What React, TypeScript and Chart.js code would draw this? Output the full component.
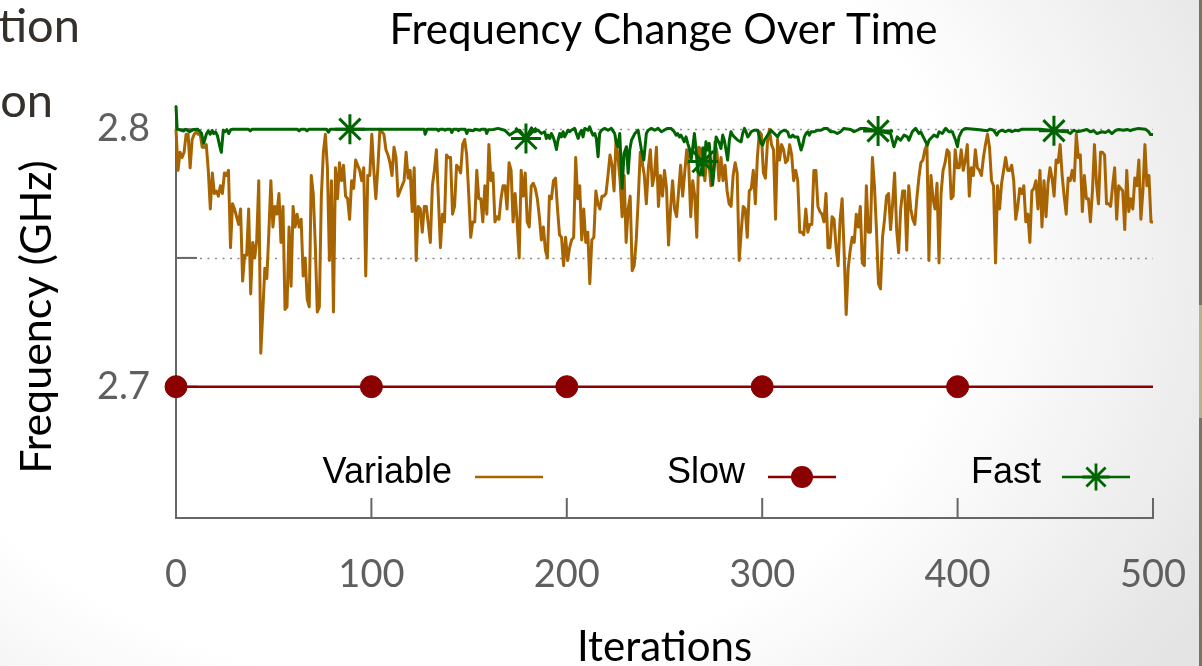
import React, { useEffect, useRef } from "react";
import { Chart, registerables } from "chart.js";

Chart.register(...registerables);

const chartTitle = "Frequency Change Over Time";
const xAxisTitle = "Iterations";
const yAxisTitle = "Frequency (GHz)";
const slideLines = ["tion", "on"];

const xTickValues = [0, 100, 200, 300, 400, 500];
const yTickValues = [2.7, 2.75, 2.8];
const yTickLabels = ["2.7", "", "2.8"];
const dottedGridValues = [2.75, 2.8];

const seriesNames = ["Variable", "Slow", "Fast"];

const variableValues = [
  2.800, 2.784, 2.791, 2.789, 2.791, 2.798, 2.798, 2.785, 2.796, 2.798,
  2.799, 2.798, 2.798, 2.793, 2.793, 2.794, 2.784, 2.769, 2.783, 2.775,
  2.776, 2.774, 2.778, 2.775, 2.783, 2.782, 2.784, 2.754, 2.771, 2.769,
  2.766, 2.763, 2.769, 2.741, 2.751, 2.751, 2.769, 2.736, 2.756, 2.750,
  2.757, 2.780, 2.713, 2.729, 2.746, 2.742, 2.760, 2.780,
  2.762, 2.770, 2.767, 2.775, 2.756, 2.770, 2.730, 2.731, 2.762, 2.739,
  2.770, 2.762, 2.767, 2.762, 2.765, 2.743, 2.750, 2.734, 2.731, 2.782,
  2.775, 2.755, 2.729, 2.731, 2.774, 2.791, 2.798, 2.785, 2.749, 2.780,
  2.729, 2.785,
  2.773, 2.787, 2.780, 2.786, 2.774, 2.773, 2.765, 2.780, 2.777, 2.788,
  2.786, 2.784, 2.780, 2.785, 2.743, 2.782, 2.782, 2.798, 2.784, 2.773,
  2.785, 2.800, 2.799, 2.798, 2.792, 2.790, 2.787, 2.782, 2.793, 2.789,
  2.774, 2.776, 2.778, 2.780, 2.791, 2.781, 2.784, 2.768, 2.785, 2.749,
  2.770, 2.769, 2.760, 2.770, 2.770, 2.763, 2.756, 2.778, 2.784, 2.792,
  2.773, 2.754, 2.767, 2.764, 2.790, 2.789, 2.789, 2.767, 2.770, 2.786,
  2.785, 2.783, 2.794, 2.796, 2.790, 2.775, 2.758, 2.764, 2.764, 2.784,
  2.773, 2.773, 2.764, 2.778, 2.767, 2.794, 2.780, 2.783, 2.764, 2.766,
  2.765, 2.773, 2.778, 2.778, 2.769, 2.787, 2.784, 2.764, 2.775, 2.764,
  2.750, 2.784, 2.774, 2.783, 2.764, 2.762, 2.778, 2.779, 2.777, 2.773,
  2.766, 2.757, 2.762, 2.753, 2.750, 2.774, 2.773, 2.780, 2.781, 2.769,
  2.759, 2.758, 2.747, 2.758, 2.749, 2.754, 2.757, 2.758, 2.789, 2.773,
  2.778, 2.757, 2.769, 2.756, 2.760, 2.740, 2.757, 2.758, 2.776, 2.771,
  2.769, 2.774, 2.774, 2.775, 2.782, 2.790, 2.786, 2.776, 2.796, 2.789,
  2.780, 2.766, 2.782, 2.756, 2.769, 2.774, 2.745, 2.747, 2.757, 2.773,
  2.791, 2.787, 2.782, 2.771, 2.785, 2.792, 2.778, 2.782, 2.793, 2.770,
  2.782,
  2.774, 2.784, 2.777, 2.755, 2.769, 2.780, 2.769, 2.766, 2.776, 2.786,
  2.774, 2.783, 2.792, 2.786, 2.766, 2.780, 2.774, 2.758, 2.793, 2.792,
  2.787, 2.780, 2.789, 2.787, 2.778, 2.781, 2.795, 2.791, 2.780, 2.789,
  2.780, 2.786, 2.776, 2.771, 2.770, 2.782, 2.787, 2.783, 2.749, 2.760,
  2.770, 2.769, 2.758, 2.776, 2.777, 2.784, 2.771, 2.789, 2.799, 2.798,
  2.783, 2.781, 2.795, 2.800, 2.794, 2.792, 2.765, 2.796, 2.788, 2.794,
  2.792, 2.787, 2.788, 2.794, 2.790, 2.780, 2.784, 2.780, 2.760, 2.760,
  2.759, 2.769, 2.760, 2.763, 2.763, 2.784, 2.784, 2.770, 2.768, 2.767,
  2.764, 2.775,
  2.754, 2.754, 2.766, 2.765, 2.754, 2.747, 2.765, 2.773, 2.752, 2.728,
  2.746, 2.753, 2.758, 2.756, 2.767, 2.762, 2.770, 2.748, 2.747, 2.778,
  2.760, 2.760, 2.789, 2.778, 2.761, 2.740, 2.738, 2.758, 2.765, 2.774,
  2.775, 2.761, 2.771, 2.783, 2.761, 2.752, 2.769, 2.776, 2.776, 2.753,
  2.778, 2.769, 2.765, 2.763, 2.773, 2.781, 2.787, 2.788, 2.792, 2.794,
  2.749, 2.782, 2.773, 2.769, 2.779, 2.748, 2.775, 2.784, 2.787, 2.792,
  2.791, 2.773, 2.774, 2.792, 2.785, 2.785, 2.792, 2.784, 2.788, 2.794,
  2.774, 2.785, 2.782, 2.792, 2.785, 2.784, 2.782, 2.789, 2.794, 2.798,
  2.793, 2.780,
  2.778, 2.748, 2.778, 2.769, 2.779, 2.784, 2.789, 2.784, 2.784, 2.786,
  2.780, 2.765, 2.770, 2.777, 2.775, 2.778, 2.764, 2.767, 2.756, 2.776,
  2.777, 2.780, 2.769, 2.784, 2.762, 2.780, 2.766, 2.779, 2.785, 2.781,
  2.774, 2.788, 2.787, 2.794, 2.782, 2.774, 2.767, 2.781, 2.780, 2.784,
  2.780, 2.798, 2.789, 2.790, 2.768, 2.782, 2.773, 2.773, 2.764, 2.776,
  2.794, 2.779, 2.771, 2.791, 2.791, 2.790, 2.771, 2.771, 2.770, 2.778,
  2.785, 2.765, 2.778, 2.777, 2.776, 2.761, 2.784, 2.768, 2.773, 2.769,
  2.781, 2.778, 2.788, 2.765, 2.776, 2.794, 2.778, 2.782, 2.764, 2.764,
];

const slowIters = [0, 100, 200, 300, 400, 500];
const slowValues = [2.7, 2.7, 2.7, 2.7, 2.7, 2.7];
const slowMarkerIters = [0, 100, 200, 300, 400];

const fastIters = [
  0, 0.6, 4, 5, 7, 9, 11, 13, 14.2, 15.5, 16.5, 17.5, 18.5, 19.3, 20.2, 21.2, 22.5, 23.2, 24.2, 25,
  26, 27, 28, 29, 37, 38, 39, 62, 63, 64, 66, 67, 68, 77, 78, 79, 89, 127, 127.5, 128.5,
  133.5, 134.3, 135, 137, 137.7, 138.5, 140.5, 141.1, 142, 144, 144.5, 145.2, 148, 148.8, 149.6, 152.2, 153, 155.6, 156.3, 158.3,
  159, 159.8, 162.5, 164.8, 168.2, 170.8, 173.3, 175.9, 179.1, 181.9, 183.6, 185.3, 187, 188.7, 189.5, 190.4, 191.3, 192.1, 193, 193.8,
  194.7, 195.5, 196.4, 197.2, 198.1, 198.9, 199.8, 200.6, 201.5, 202.3, 204, 205.8, 206.6, 207.5, 208.3, 209.2, 210.9, 211.7, 212.6, 213.4,
  214.3, 215.1, 216, 216.8, 217.7, 219.4, 221.1, 222.8, 224.5, 225.4, 226.2, 227.1, 228.3, 229.3, 230.5, 231.4, 232.2, 233.1, 234.8, 236.5,
  238.2, 239.4, 240.7, 241.6, 243.3, 245, 246.7, 248.4, 249.8, 251.6, 253.3, 255, 255.9, 256.7, 257.6, 258.4, 259.3, 260.1, 261, 261.9,
  262.7, 263.6, 264.4, 265.3, 266.1, 267, 268.3, 269.7, 270.4, 271.2, 272.1, 272.9, 273.8, 274.6, 275.5, 276.4, 277.2, 278.1, 278.9, 279.8,
  280.6, 281.5, 282.3, 283.2, 284, 284.9, 285.7, 287.5, 289.2, 290, 290.9, 291.7, 292.6, 293.4, 294.3, 296, 297.7, 298.5, 299.4, 300.2,
  301.1, 302.8, 304.5, 306.2, 307.9, 308.8, 309.6, 311.3, 313, 313.9, 314.8, 315.6, 316.5, 318.2, 319, 319.9, 320.7, 321.6, 322.4, 323.3,
  324.1, 325, 326.7, 328.4, 330.1, 331.8, 333.3, 335, 336.7, 338.4, 340.1, 341.8, 345.3, 347, 348.7, 350.4, 352.9, 359.3, 365.7, 367.4,
  369.1, 370.8, 372.6, 374.3, 375.1, 376.8, 378.5, 380.2, 381.1, 382.8, 384.5, 385.4, 386.2, 387.9, 389.6, 390.5, 392.2, 393.9, 395.6, 397.3,
  399, 399.9, 400.7, 402.4, 404.1, 410.1, 415.2, 416.6, 418.4, 420.1, 421, 422.7, 424.4, 426.1, 427.8, 429.5, 431.2, 432.9, 442.3, 449.3,
  456, 457.7, 459.4, 461.1, 463.6, 466.2, 467.9, 469.6, 471.3, 473.9, 475.6, 477.3, 479, 480.7, 482.4, 485, 486.7, 488.4, 490.1, 492.6,
  496.1, 497.8, 498.6, 500,
];
const fastValues = [
  2.809, 2.8, 2.7993, 2.8, 2.799, 2.7999, 2.8, 2.7985, 2.7945, 2.798, 2.7993, 2.798, 2.7995, 2.7983, 2.799, 2.7975, 2.793, 2.791, 2.7996, 2.799,
  2.7998, 2.7983, 2.7998, 2.8, 2.8, 2.7993, 2.8, 2.8, 2.7993, 2.8, 2.8, 2.7993, 2.8, 2.8, 2.7988, 2.8, 2.8, 2.8, 2.798, 2.8,
  2.8, 2.7994, 2.8, 2.8, 2.7996, 2.8, 2.8, 2.7987, 2.8, 2.8, 2.7994, 2.8, 2.8, 2.7983, 2.7997, 2.7994, 2.8, 2.7996, 2.8, 2.8,
  2.7983, 2.7998, 2.7999, 2.8003, 2.7996, 2.7977, 2.799, 2.7996, 2.7964, 2.8005, 2.799, 2.7996, 2.7983, 2.799, 2.7964, 2.7977, 2.7964, 2.7983, 2.797, 2.7951,
  2.7921, 2.7957, 2.7983, 2.797, 2.799, 2.797, 2.7983, 2.7996, 2.799, 2.7996, 2.8003, 2.7964, 2.7983, 2.7996, 2.797, 2.8003, 2.7996, 2.8009, 2.799, 2.7977,
  2.7983, 2.7964, 2.7893, 2.7983, 2.7996, 2.8003, 2.7996, 2.8003, 2.7983, 2.7945, 2.7932, 2.7983, 2.777, 2.7906, 2.7932, 2.7829, 2.7919, 2.7957, 2.7983, 2.7996,
  2.7919, 2.788, 2.7983, 2.7996, 2.8003, 2.7996, 2.8003, 2.799, 2.7996, 2.8003, 2.8003, 2.799, 2.7977, 2.7983, 2.797, 2.7977, 2.7964, 2.7951, 2.797, 2.7945,
  2.7925, 2.788, 2.7925, 2.7983, 2.7925, 2.7835, 2.7822, 2.7874, 2.7861, 2.7951, 2.7919, 2.7945, 2.7854, 2.7783, 2.7854, 2.797, 2.7957, 2.7945, 2.7925, 2.7977,
  2.7957, 2.7919, 2.788, 2.7957, 2.799, 2.7977, 2.797, 2.7957, 2.7951, 2.7983, 2.8003, 2.799, 2.797, 2.7977, 2.799, 2.7996, 2.7996, 2.797, 2.7945, 2.7938,
  2.7957, 2.7977, 2.7996, 2.7983, 2.797, 2.7983, 2.799, 2.7996, 2.799, 2.797, 2.797, 2.7977, 2.797, 2.797, 2.7945, 2.7919, 2.7938, 2.797, 2.7983, 2.799,
  2.7977, 2.799, 2.799, 2.7996, 2.7996, 2.8003, 2.8003, 2.799, 2.799, 2.7983, 2.799, 2.8003, 2.7999, 2.799, 2.7996, 2.8003, 2.8003, 2.7993, 2.7983, 2.7932,
  2.797, 2.7957, 2.7977, 2.797, 2.7957, 2.799, 2.8003, 2.7983, 2.799, 2.7964, 2.7938, 2.7957, 2.7964, 2.7977, 2.797, 2.799, 2.7983, 2.8003, 2.799, 2.799,
  2.7957, 2.7932, 2.797, 2.7996, 2.8003, 2.7999, 2.7994, 2.8, 2.7996, 2.7977, 2.799, 2.7996, 2.799, 2.7996, 2.799, 2.7996, 2.7994, 2.8, 2.8, 2.7994,
  2.799, 2.7983, 2.7996, 2.799, 2.7994, 2.7999, 2.799, 2.7994, 2.7983, 2.799, 2.7987, 2.7994, 2.7983, 2.7994, 2.7999, 2.7996, 2.7999, 2.7994, 2.7999, 2.8003,
  2.8, 2.799, 2.7979, 2.7979,
];
const fastMarkerIters = [89, 179.1, 269.7, 359.3, 449.3];

const COLORS = {
  variable: "#a86400",
  slow: "#8b0000",
  fast: "#006400",
  axis: "#666666",
  tickText: "#5f5f5f",
  grid: "#8c8c8c",
};

function drawStar(ctx: CanvasRenderingContext2D, x: number, y: number, r: number) {
  const d = r * Math.SQRT1_2;
  ctx.beginPath();
  ctx.moveTo(x - r, y); ctx.lineTo(x + r, y);
  ctx.moveTo(x, y - r); ctx.lineTo(x, y + r);
  ctx.moveTo(x - d, y - d); ctx.lineTo(x + d, y + d);
  ctx.moveTo(x - d, y + d); ctx.lineTo(x + d, y - d);
  ctx.stroke();
}

const decorPlugin = {
  id: "decor",
  beforeDatasetsDraw(chart: any) {
    const { ctx, chartArea, scales } = chart;
    const xs = scales.x, ys = scales.y;
    ctx.save();
    ctx.strokeStyle = COLORS.grid;
    ctx.lineWidth = 1.3;
    ctx.setLineDash([2, 5.5]);
    for (const v of dottedGridValues) {
      const py = Math.round(ys.getPixelForValue(v)) + 0.5;
      ctx.beginPath();
      ctx.moveTo(chartArea.left + 24, py);
      ctx.lineTo(chartArea.right, py);
      ctx.stroke();
    }
    ctx.setLineDash([]);
    ctx.strokeStyle = COLORS.axis;
    ctx.lineWidth = 2;
    for (const v of xTickValues) {
      const px = xs.getPixelForValue(v);
      ctx.beginPath();
      ctx.moveTo(px, chartArea.bottom);
      ctx.lineTo(px, chartArea.bottom - 20);
      ctx.stroke();
    }
    for (const v of yTickValues) {
      const py = ys.getPixelForValue(v);
      ctx.beginPath();
      ctx.moveTo(chartArea.left, py);
      ctx.lineTo(chartArea.left + 21, py);
      ctx.stroke();
    }
    ctx.restore();
  },
  afterDatasetsDraw(chart: any) {
    const { ctx } = chart;
    const ds = chart.data.datasets;
    const items = [
      { textRight: 452, x0: 475, x1: 543, marker: "none" },
      { textRight: 745, x0: 768, x1: 836, marker: "circle" },
      { textRight: 1041, x0: 1062, x1: 1130, marker: "star" },
    ];
    ctx.save();
    ctx.font = '36px "Liberation Sans", Arial, sans-serif';
    ctx.textAlign = "right";
    ctx.textBaseline = "alphabetic";
    items.forEach((it, i) => {
      ctx.fillStyle = "#000";
      ctx.fillText(seriesNames[i], it.textRight, 483);
      const color = ds[i].borderColor;
      const ly = 477;
      ctx.strokeStyle = color;
      ctx.lineWidth = 2.4;
      ctx.beginPath();
      ctx.moveTo(it.x0, ly);
      ctx.lineTo(it.x1, ly);
      ctx.stroke();
      const cx = (it.x0 + it.x1) / 2;
      if (it.marker === "circle") {
        ctx.fillStyle = color;
        ctx.beginPath();
        ctx.arc(cx, ly, 11, 0, Math.PI * 2);
        ctx.fill();
      } else if (it.marker === "star") {
        ctx.lineWidth = 2.8;
        drawStar(ctx, cx, ly, 13.5);
      }
    });
    ctx.restore();
  },
  afterDraw(chart: any) {
    const { ctx, chartArea } = chart;
    ctx.save();
    ctx.fillStyle = "#000";
    ctx.textAlign = "center";
    ctx.textBaseline = "alphabetic";
    ctx.font = '42px Lato, "Open Sans", sans-serif';
    const cx = (chartArea.left + chartArea.right) / 2;
    ctx.fillText(chartTitle, cx - 1, 44);
    ctx.fillText(xAxisTitle, cx, 661);
    ctx.font = '43px Lato, "Open Sans", sans-serif';
    ctx.translate(51, 317);
    ctx.rotate(-Math.PI / 2);
    ctx.fillText(yAxisTitle, 0, 0);
    ctx.restore();
  },
};

export default function App() {
  const canvasRef = useRef<HTMLCanvasElement | null>(null);

  useEffect(() => {
    const canvas = canvasRef.current;
    if (!canvas) return;
    const n = variableValues.length;
    const variableData = variableValues.map((v, i) => ({ x: (i * 500) / (n - 1), y: v }));
    const slowData = slowIters.map((x, i) => ({ x, y: slowValues[i] }));
    const fastData = fastIters.map((x, i) => ({ x, y: fastValues[i] }));
    const tickFont = { family: 'Lato, "Open Sans", sans-serif', size: 38 };

    const chart = new Chart(canvas, {
      type: "line",
      data: {
        datasets: [
          {
            label: seriesNames[0],
            data: variableData,
            borderColor: COLORS.variable,
            borderWidth: 3,
            borderJoinStyle: "round",
            pointRadius: 0,
            tension: 0,
            clip: false,
            order: 1,
          },
          {
            label: seriesNames[1],
            data: slowData,
            borderColor: COLORS.slow,
            backgroundColor: COLORS.slow,
            borderWidth: 2.4,
            pointStyle: "circle",
            pointRadius: (c: any) => (c.raw && slowMarkerIters.includes(c.raw.x) ? 11 : 0),
            pointBackgroundColor: COLORS.slow,
            pointBorderColor: COLORS.slow,
            pointBorderWidth: 1,
            tension: 0,
            clip: false,
            order: 2,
          },
          {
            label: seriesNames[2],
            data: fastData,
            borderColor: COLORS.fast,
            backgroundColor: COLORS.fast,
            borderWidth: 3,
            borderJoinStyle: "round",
            pointStyle: "star",
            pointRadius: (c: any) => (c.raw && fastMarkerIters.includes(c.raw.x) ? 15 : 0),
            pointBorderColor: COLORS.fast,
            pointBorderWidth: 3,
            tension: 0,
            clip: false,
            order: 0,
          },
        ] as any,
      },
      options: {
        responsive: false,
        maintainAspectRatio: false,
        animation: false,
        devicePixelRatio: 1,
        events: [],
        layout: { padding: { left: 0, top: 106, right: 49, bottom: 0 } },
        plugins: {
          legend: { display: false },
          title: { display: false },
          tooltip: { enabled: false },
        },
        scales: {
          x: {
            type: "linear",
            min: 0,
            max: 500,
            afterBuildTicks: (s: any) => {
              s.ticks = xTickValues.map((v) => ({ value: v }));
            },
            afterFit: (s: any) => {
              s.height = 148;
              s.paddingLeft = 0;
              s.paddingRight = 0;
            },
            grid: { display: false, drawTicks: false },
            border: { display: true, color: COLORS.axis, width: 2 },
            ticks: {
              font: tickFont,
              color: COLORS.tickText,
              padding: 34,
              maxRotation: 0,
              autoSkip: false,
              callback: (v: any) => String(v),
            },
          },
          y: {
            type: "linear",
            min: 2.649,
            max: 2.809,
            afterBuildTicks: (s: any) => {
              s.ticks = yTickValues.map((v) => ({ value: v }));
            },
            afterFit: (s: any) => {
              s.width = 176;
              s.paddingTop = 0;
              s.paddingBottom = 0;
            },
            grid: { display: false, drawTicks: false },
            border: { display: true, color: COLORS.axis, width: 2 },
            ticks: {
              font: tickFont,
              color: COLORS.tickText,
              padding: 26,
              autoSkip: false,
              callback: (_v: any, i: number) => yTickLabels[i],
            },
          },
        },
      } as any,
      plugins: [decorPlugin],
    });
    return () => chart.destroy();
  }, []);

  const slideStyle: React.CSSProperties = {
    position: "absolute",
    fontFamily: 'Lato, "Open Sans", sans-serif',
    fontSize: 47,
    lineHeight: "47px",
    color: "#35302a",
    whiteSpace: "nowrap",
  };

  return (
    <div
      style={{
        position: "fixed",
        left: 0,
        top: 0,
        width: 1202,
        height: 666,
        overflow: "hidden",
        background:
          "radial-gradient(ellipse 900px 700px at 420px 260px, #ffffff 60%, #e4e4e4 100%)",
      }}
    >
      <div style={{ ...slideStyle, right: 1202 - 80, top: 1 }}>{slideLines[0]}</div>
      <div style={{ ...slideStyle, right: 1202 - 53, top: 76 }}>{slideLines[1]}</div>
      <canvas
        ref={canvasRef}
        width={1202}
        height={666}
        style={{ position: "absolute", left: 0, top: 0, width: 1202, height: 666 }}
      />
      <div
        style={{
          position: "absolute",
          left: 1199,
          top: 0,
          width: 3,
          height: 666,
          background:
            "linear-gradient(to bottom, #7a7262 0px, #7a7262 305px, #b8af8f 305px, #b8af8f 418px, #7a7262 418px)",
        }}
      />
    </div>
  );
}
